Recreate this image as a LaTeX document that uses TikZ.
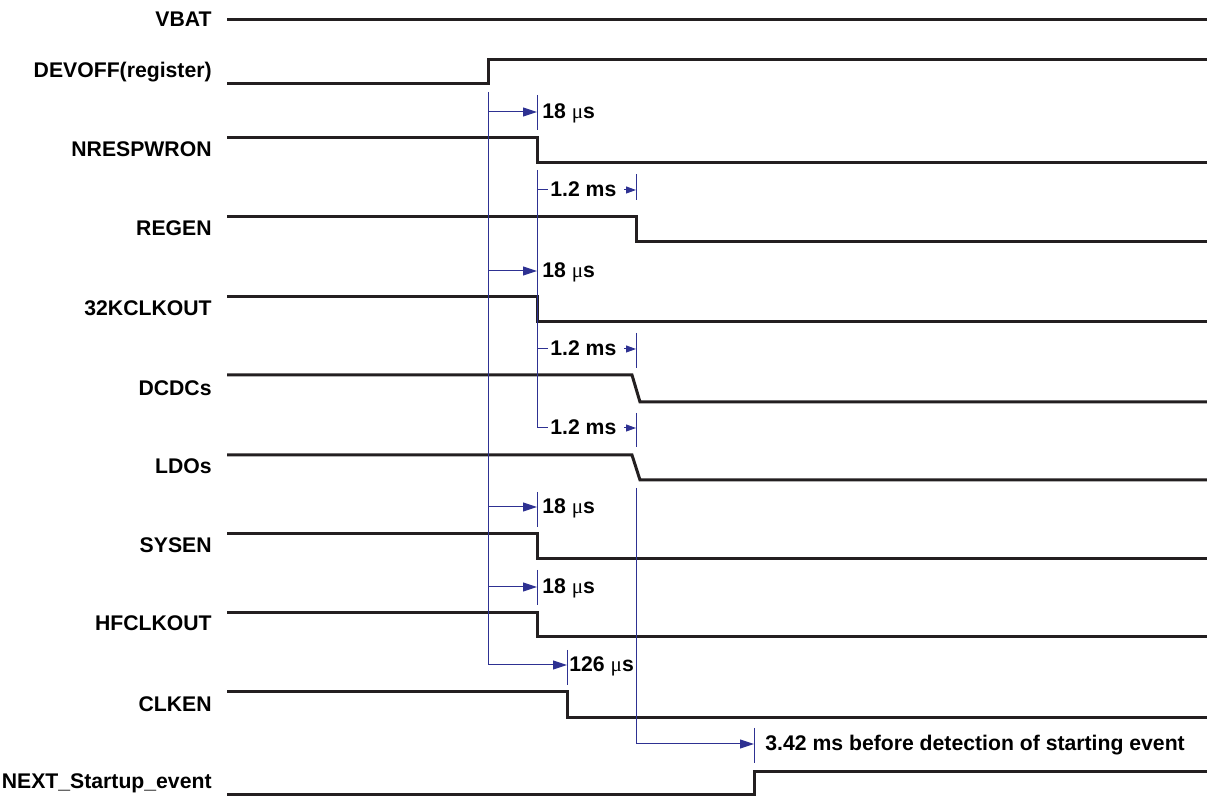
\documentclass[tikz,border=0pt]{standalone}
\usepackage{fontspec}
\setmainfont{Liberation Sans}
\newfontfamily\grk{Liberation Serif}
\usepackage{tikz}
\usetikzlibrary{arrows.meta}
\definecolor{wave}{RGB}{35,31,32}
\definecolor{tmark}{RGB}{46,49,146}
\newcommand{\us}{{\mdseries\grk μ}s}

\begin{document}
\begin{tikzpicture}[x=0.5pt, y=-0.5pt, every node/.style={font=\fontsize{10.6}{12}\selectfont\bfseries, inner sep=0pt}, lbl/.style={anchor=base east}, tm/.style={anchor=base west}, sig/.style={draw=wave, line width=1.5pt}, mk/.style={draw=tmark, line width=0.5pt}, arr/.style={mk, -{Triangle[length=7pt,width=4.5pt]}}, sarr/.style={mk, -{Triangle[length=5pt,width=3.5pt]}}]
\useasboundingbox (0,0) rectangle (1207,796);
% signal names
\node[lbl] (vbat) at (212,26.5) {VBAT};
\node[lbl] (devoff) at (212,78) {DEVOFF(register)};
\node[lbl] (nresp) at (212,157) {NRESPWRON};
\node[lbl] (regen) at (212,236) {REGEN};
\node[lbl] (clk32) at (212,316) {32KCLKOUT};
\node[lbl] (dcdc) at (212,396) {DCDCs};
\node[lbl] (ldo) at (212,474) {LDOs};
\node[lbl] (sysen) at (212,553) {SYSEN};
\node[lbl] (hfclk) at (212,631) {HFCLKOUT};
\node[lbl] (clken) at (212,712) {CLKEN};
\node[lbl] (next) at (212,789) {NEXT\_Startup\_event};
% waveforms
\draw[sig] (227,20) -- (1207,20);
\draw[sig] (227,84) -- (488,84) -- (488,60) -- (1207,60);
\draw[sig] (227,138) -- (537,138) -- (537,163) -- (1207,163);
\draw[sig] (227,217) -- (636,217) -- (636,242) -- (1207,242);
\draw[sig] (227,297) -- (537,297) -- (537,322) -- (1207,322);
\draw[sig] (227,375) -- (632,375) -- (640,402) -- (1207,402);
\draw[sig] (227,455) -- (632,455) -- (640,480) -- (1207,480);
\draw[sig] (227,534) -- (537,534) -- (537,559) -- (1207,559);
\draw[sig] (227,613) -- (537,613) -- (537,637) -- (1207,637);
\draw[sig] (227,692) -- (567,692) -- (567,718) -- (1207,718);
\draw[sig] (227,795) -- (754,795) -- (754,772) -- (1207,772);
% timing marks
\coordinate (t0) at (488,92);
\coordinate (t1) at (537,170);
\coordinate (t2) at (636,488);
\draw[mk] (537,95) -- (537,130);
\draw[mk] (636,174) -- (636,200);
\draw[mk] (636,333) -- (636,368);
\draw[mk] (636,413) -- (636,447);
\draw[mk] (537,492) -- (537,527);
\draw[mk] (537,570) -- (537,605);
\draw[mk] (567,650) -- (567,685);
\draw[mk] (754,728) -- (754,763);
\draw[arr] (t0) |- (567,665);
\draw[arr] (488,112) -- (537,112);
\draw[arr] (488,271) -- (537,271);
\draw[arr] (488,507) -- (537,507);
\draw[arr] (488,587) -- (537,587);
\draw[mk] (537,190) -- (548,190);
\draw[mk] (537,349) -- (548,349);
\draw[mk] (t1) |- (548,428);
\draw[sarr] (624,190) -- (636,190);
\draw[sarr] (624,349) -- (636,349);
\draw[sarr] (624,428) -- (636,428);
\draw[arr] (t2) |- (754,744);
% delays
\node[tm] (d1) at (542,118.5) {18 \us};
\node[tm] (d2) at (550,196.5) {1.2 ms};
\node[tm] (d3) at (542,277.5) {18 \us};
\node[tm] (d4) at (550,355.5) {1.2 ms};
\node[tm] (d5) at (550,434.5) {1.2 ms};
\node[tm] (d6) at (542,513.5) {18 \us};
\node[tm] (d7) at (542,593.5) {18 \us};
\node[tm] (d8) at (569,671.5) {126 \us};
\node[tm] (d9) at (765,750.5) {3.42 ms before detection of starting event};
\end{tikzpicture}
\end{document}
